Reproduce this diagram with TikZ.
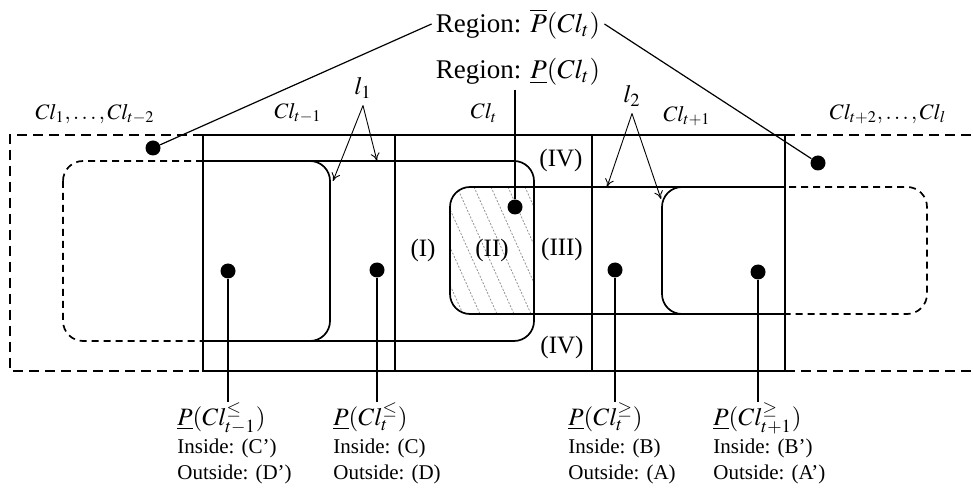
\documentclass[tikz,border=0pt]{standalone}
\usepackage{mathptmx}
\usepackage{fontspec}
\setmainfont{Liberation Serif}
\usetikzlibrary{arrows.meta,positioning,calc}

\begin{document}
\begin{tikzpicture}[
    x=0.5pt,y=-0.5pt,
    dot/.style={circle, fill=black, inner sep=0pt, minimum size=7.5pt},
    frame/.style={line width=1.2pt},
    appr/.style={line width=0.85pt, rounded corners=10pt},
    lead/.style={line width=0.6pt},
    ptr/.style={line width=0.45pt, -{To[length=4pt,width=4.5pt]}},
    cls/.style={font=\fontsize{11}{13}\selectfont},
    reg/.style={font=\fontsize{12.5}{14}\selectfont},
    info/.style={anchor=north west, inner sep=0pt, align=left, font=\fontsize{10.5}{13}\selectfont}
  ]
    \useasboundingbox (0,0) rectangle (973,491);
    % hatched part of the lower approximation
    \begin{scope}
      \clip[rounded corners=10pt] (450,187) rectangle (927,314);
      \clip (450,187) rectangle (534,314);
      \foreach \x in {372,389,...,545} {\draw[gray!85, line width=0.4pt, dash pattern=on 1pt off 0.8pt] (\x,187) -- ++(57,127);}
    \end{scope}
    % class frame
    \draw[frame] (203,135) rectangle (785,371);
    \draw[frame] (395,135) -- (395,371);
    \draw[frame] (592,135) -- (592,371);
    \draw[frame, dash pattern=on 5pt off 3pt] (203,135) -- (10,135) -- (10,371) -- (203,371);
    \draw[frame, dash pattern=on 5pt off 3pt] (785,135) -- (973,135);
    \draw[frame, dash pattern=on 5pt off 3pt] (785,371) -- (973,371);
    % approximations, solid inside the frame
    \begin{scope}
      \clip (203,0) rectangle (785,491);
      \draw[appr] (63,161) rectangle (330,341);
      \draw[appr] (63,161) rectangle (534,341);
      \draw[appr] (450,187) rectangle (927,314);
      \draw[appr] (662,187) rectangle (927,314);
    \end{scope}
    % ... and dashed outside it
    \begin{scope}
      \clip (0,0) rectangle (203,491) (785,0) rectangle (973,491);
      \draw[appr, dash pattern=on 3.5pt off 2.5pt] (63,161) rectangle (534,341);
      \draw[appr, dash pattern=on 3.5pt off 2.5pt] (450,187) rectangle (927,314);
    \end{scope}
    % class labels
    \node[cls] (c1) at (95,114) {$Cl_1,\ldots,Cl_{t-2}$};
    \node[cls] (c2) at (298,113) {$Cl_{t-1}$};
    \node[cls] (c3) at (484,113) {$Cl_t$};
    \node[cls] (c4) at (687,116) {$Cl_{t+1}$};
    \node[cls] (c5) at (888,114) {$Cl_{t+2},\ldots,Cl_l$};
    % regions
    \node[reg] (r1) at (423,250) {(I)};
    \node[reg] (r2) at (492,250) {(II)};
    \node[reg] (r3) at (562,249) {(III)};
    \node[reg] (r4a) at (561,160) {(IV)};
    \node[reg] (r4b) at (562,347) {(IV)};
    % boundaries l1, l2
    \node[reg] (l1) at (363,88) {$l_1$};
    \node[reg] (l2) at (632,96) {$l_2$};
    \coordinate (l1a) at (333,181);
    \coordinate (l1b) at (377,161);
    \coordinate (l2a) at (607,187);
    \coordinate (l2b) at (661,199);
    \draw[ptr] (l1.south) -- (l1a);
    \draw[ptr] (l1.south) -- (l1b);
    \draw[ptr] (l2.south) -- (l2a);
    \draw[ptr] (l2.south) -- (l2b);
    % dots
    \foreach \n/\x/\y in {dL/153/148, dR/818/163, dM/515/207, d1/228/271, d2/377/270, d3/615/270, d4/758/272} {
      \node[dot] (\n) at (\x,\y) {};
    }
    % region labels on top
    \node[font=\fontsize{13.5}{15}\selectfont, inner sep=2pt] (rbar) at (518,24) {Region: $\overline{P}(Cl_t)$};
    \node[font=\fontsize{13.5}{15}\selectfont, inner sep=2pt] (rund) at (518,72) {Region: $\underline{P}(Cl_t)$};
    \draw[lead] (rbar.west) -- (dL);
    \draw[lead] (rbar.east) -- (dR);
    \draw[lead] (rund.south -| dM) -- (dM);
    % unions of classes
    \node[info] (lab1) at (177,402) {{\fontsize{12.5}{14}\selectfont$\underline{P}(Cl_{t-1}^{\leq})$}\\[1pt] Inside: (C')\\ Outside: (D')};
    \node[info] (lab2) at (333,402) {{\fontsize{12.5}{14}\selectfont$\underline{P}(Cl_{t}^{\leq})$}\\[1pt] Inside: (C)\\ Outside: (D)};
    \node[info] (lab3) at (568,402) {{\fontsize{12.5}{14}\selectfont$\underline{P}(Cl_{t}^{\geq})$}\\[1pt] Inside: (B)\\ Outside: (A)};
    \node[info] (lab4) at (713,402) {{\fontsize{12.5}{14}\selectfont$\underline{P}(Cl_{t+1}^{\geq})$}\\[1pt] Inside: (B')\\ Outside: (A')};
    \draw[lead] (d1) -- (d1 |- lab1.north);
    \draw[lead] (d2) -- (d2 |- lab2.north);
    \draw[lead] (d3) -- (d3 |- lab3.north);
    \draw[lead] (d4) -- (d4 |- lab4.north);
  \end{tikzpicture}
\end{document}
